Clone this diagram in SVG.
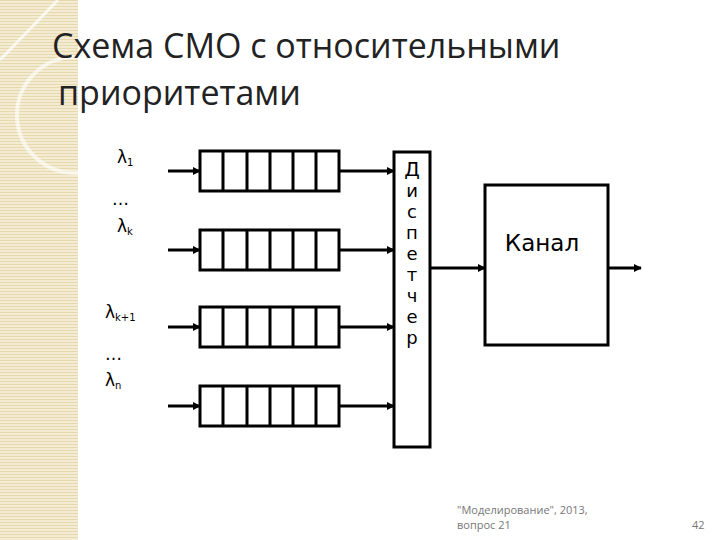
<svg xmlns="http://www.w3.org/2000/svg" width="720" height="540" viewBox="0 0 720 540">
<defs>
<pattern id="stripes" width="4" height="3" patternUnits="userSpaceOnUse"><rect width="4" height="3" fill="#f3ebd2"/><rect width="4" height="1" fill="#e6d9b0"/></pattern>
<marker id="ah" markerWidth="8" markerHeight="8" refX="7" refY="4" orient="auto" markerUnits="userSpaceOnUse"><path d="M0,0 L8,4 L0,8 Z" fill="#000"/></marker>
</defs>
<style>
.q{fill:#fff;stroke:#000;stroke-width:3}
.c{stroke:#000;stroke-width:3}
.ln{stroke:#000;stroke-width:3;fill:none}
.lbl{font-family:"DejaVu Sans",sans-serif;font-size:17px}
.sub{font-family:"DejaVu Sans",sans-serif;font-size:10px}
.t{font-family:"Open Sans",sans-serif;font-size:34px;fill:#222}
.f{font-family:"Open Sans",sans-serif;font-size:11px;fill:#777}
</style>
<rect width="720" height="540" fill="#fff"/>
<rect x="0" y="0" width="78" height="540" fill="url(#stripes)"/>
<path d="M0,60 L58,0" stroke="#fff" stroke-width="3" fill="none" opacity="0.7"/>
<circle cx="75" cy="115" r="58" fill="none" stroke="#ffffff" stroke-width="4" opacity="0.6"/>
<text class="t" x="52" y="58">Схема СМО с относительными</text>
<text class="t" x="58" y="105">приоритетами</text>
<g id="labels">
<text class="lbl" x="117" y="163">λ<tspan class="sub" dy="3">1</tspan></text>
<text class="lbl" x="112" y="205">…</text>
<text class="lbl" x="117" y="232">λ<tspan class="sub" dy="3">k</tspan></text>
<text class="lbl" x="105" y="318">λ<tspan class="sub" dy="3">k+1</tspan></text>
<text class="lbl" x="105" y="360">…</text>
<text class="lbl" x="105" y="386">λ<tspan class="sub" dy="3">n</tspan></text>
</g>
<g id="connectors">
<line class="ln" x1="168" y1="171" x2="200" y2="171" marker-end="url(#ah)"/>
<line class="ln" x1="168" y1="250" x2="200" y2="250" marker-end="url(#ah)"/>
<line class="ln" x1="168" y1="327" x2="200" y2="327" marker-end="url(#ah)"/>
<line class="ln" x1="168" y1="406" x2="200" y2="406" marker-end="url(#ah)"/>
<line class="ln" x1="340" y1="171" x2="394" y2="171" marker-end="url(#ah)"/>
<line class="ln" x1="340" y1="250" x2="394" y2="250" marker-end="url(#ah)"/>
<line class="ln" x1="340" y1="327" x2="394" y2="327" marker-end="url(#ah)"/>
<line class="ln" x1="340" y1="406" x2="394" y2="406" marker-end="url(#ah)"/>
<line class="ln" x1="430" y1="268" x2="485" y2="268" marker-end="url(#ah)"/>
<line class="ln" x1="608" y1="268" x2="641" y2="268" marker-end="url(#ah)"/>
</g>
<g id="q1"><rect class="q" x="200" y="151" width="139" height="40"/><path class="c" d="M223,151V191M247,151V191M270,151V191M293,151V191M316,151V191"/></g>
<g id="q2"><rect class="q" x="200" y="230" width="139" height="40"/><path class="c" d="M223,230V270M247,230V270M270,230V270M293,230V270M316,230V270"/></g>
<g id="q3"><rect class="q" x="200" y="307" width="139" height="40"/><path class="c" d="M223,307V347M247,307V347M270,307V347M293,307V347M316,307V347"/></g>
<g id="q4"><rect class="q" x="200" y="386" width="139" height="40"/><path class="c" d="M223,386V426M247,386V426M270,386V426M293,386V426M316,386V426"/></g>
<g id="dispatcher">
<rect class="q" x="394" y="152" width="36" height="295"/>
<text class="lbl" x="412" text-anchor="middle" style="font-size:18px"><tspan x="412" y="176" style="font-size:20px">Д</tspan><tspan x="412" y="197">и</tspan><tspan x="412" y="218">с</tspan><tspan x="412" y="239">п</tspan><tspan x="412" y="260">е</tspan><tspan x="412" y="281">т</tspan><tspan x="412" y="302">ч</tspan><tspan x="412" y="323">е</tspan><tspan x="412" y="344">р</tspan></text>
</g>
<g id="kanal">
<rect class="q" x="485" y="185" width="123" height="160"/>
<text class="lbl" x="542" y="251" text-anchor="middle" style="font-size:23px">Канал</text>
</g>
<text class="f" x="457" y="514">"Моделирование", 2013,</text>
<text class="f" x="457" y="529">вопрос 21</text>
<text class="f" x="692" y="529">42</text>
</svg>
